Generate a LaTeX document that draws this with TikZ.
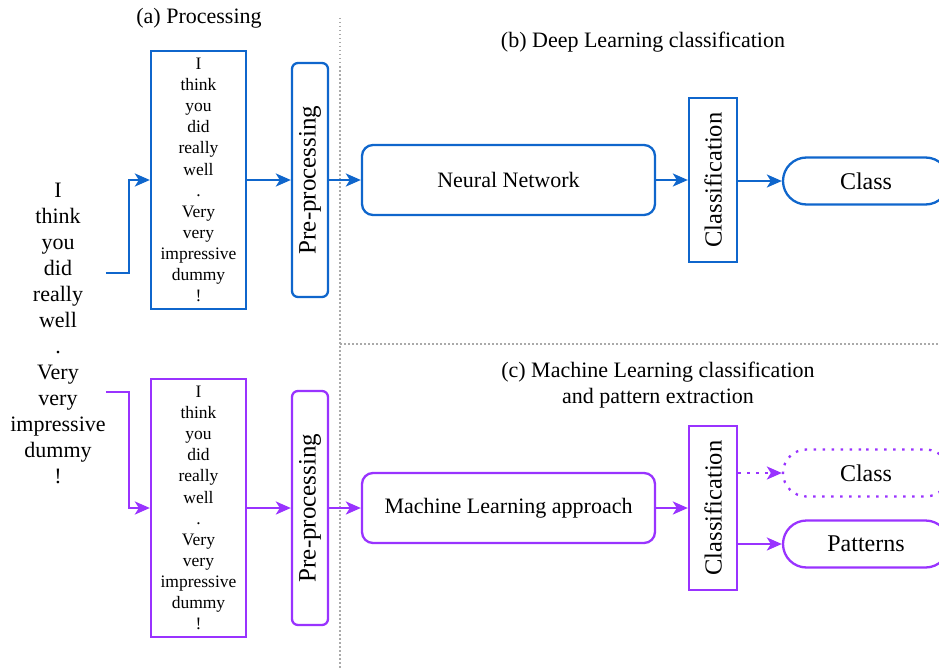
\documentclass[tikz,border=0pt]{standalone}
\usepackage{fontspec}
\setmainfont{Liberation Serif}
\usetikzlibrary{arrows.meta,shapes.misc,calc}
\definecolor{dlblue}{HTML}{0F66CC}
\definecolor{mlpurple}{HTML}{9933FF}
\definecolor{sepgray}{HTML}{AAAAAA}
\tikzset{
  lbl/.style={font=\fontsize{22}{26}\selectfont, inner sep=0pt, align=center, text=black},
  srctext/.style={font=\fontsize{22}{26}\selectfont, inner sep=0pt, align=center, text=black},
  textbox/.style={draw, line width=2.3pt, minimum width=95pt, minimum height=258pt,
    inner sep=0pt, align=center, text=black, font=\fontsize{17.5}{21.1}\selectfont},
  prebox/.style={draw, line width=2.3pt, rounded corners=6pt, rotate=90, text=black,
    minimum width=234pt, minimum height=36pt, inner sep=0pt, font=\fontsize{25}{26}\selectfont},
  mainbox/.style={draw, line width=2.3pt, rounded corners=11pt, text=black,
    minimum width=293pt, minimum height=70pt, inner sep=0pt, font=\fontsize{22}{26}\selectfont},
  clsbox/.style={draw, line width=2.3pt, rotate=90, text=black,
    minimum width=164pt, minimum height=48pt, inner sep=0pt, font=\fontsize{24.5}{26}\selectfont},
  outnode/.style={draw, line width=2.3pt, rounded rectangle, text=black,
    minimum width=166pt, minimum height=47pt, inner sep=0pt, font=\fontsize{24}{26}\selectfont},
  arr/.style={line width=2.3pt, -{Stealth[length=15pt, width=13pt, inset=4pt]}},
  sep/.style={sepgray, line width=1.5pt, dash pattern=on 1.5pt off 2.5pt},
  dotline/.style={dash pattern=on 2.5pt off 6.5pt}
}
\begin{document}
\begin{tikzpicture}[x=1pt, y=-1pt]
  \useasboundingbox (0,0) rectangle (939,669);

  % section separators
  \coordinate (vtop) at (340,18);
  \coordinate (vbot) at (340,669);
  \coordinate (hl) at (340,344);
  \coordinate (hr) at (939,344);
  \draw[sep] (vtop) -- (vbot);
  \draw[sep] (hl) -- (hr);

  % titles
  \node[lbl] (ta) at (199,18) {(a) Processing};
  \node[lbl] (tb) at (643,42) {(b) Deep Learning classification};
  \node[lbl] (tc) at (658,385) {(c) Machine Learning classification\\and pattern extraction};

  % source sentence
  \node[srctext] (src) at (58,333) {I\\think\\you\\did\\really\\well\\.\\Very\\very\\impressive\\dummy\\!};
  \coordinate (s1) at (src.east |- 0,273);
  \coordinate (s2) at (src.east |- 0,392);

  % deep learning pipeline
  \begin{scope}[dlblue]
    \node[textbox] (tb1) at (198.5,180) {I\\think\\you\\did\\really\\well\\.\\Very\\very\\impressive\\dummy\\!};
    \node[prebox] (pp1) at (310,180) {Pre-processing};
    \node[mainbox] (nn) at (508.5,180) {Neural Network};
    \node[clsbox] (cl1) at (713,180) {Classification};
    \node[outnode] (out1) at (866,181) {Class};
    \draw[arr] (s1) -- ++(23,0) |- (tb1.west);
    \draw[arr] (tb1) -- (pp1);
    \draw[arr] (pp1) -- (nn);
    \draw[arr] (nn) -- (cl1);
    \draw[arr] (cl1.south |- out1) -- (out1);
  \end{scope}

  % machine learning pipeline
  \begin{scope}[mlpurple]
    \node[textbox] (tb2) at (198.5,508) {I\\think\\you\\did\\really\\well\\.\\Very\\very\\impressive\\dummy\\!};
    \node[prebox] (pp2) at (310,508) {Pre-processing};
    \node[mainbox] (ml) at (508.5,508) {Machine Learning approach};
    \node[clsbox] (cl2) at (713,508) {Classification};
    \node[outnode, dotline] (out2) at (866,473) {Class};
    \node[outnode] (out3) at (866,544) {Patterns};
    \draw[arr] (s2) -- ++(23,0) |- (tb2.west);
    \draw[arr] (tb2) -- (pp2);
    \draw[arr] (pp2) -- (ml);
    \draw[arr] (ml) -- (cl2);
    \draw[arr, dotline] (cl2.south |- out2) -- (out2);
    \draw[arr] (cl2.south |- out3) -- (out3);
  \end{scope}
\end{tikzpicture}
\end{document}
